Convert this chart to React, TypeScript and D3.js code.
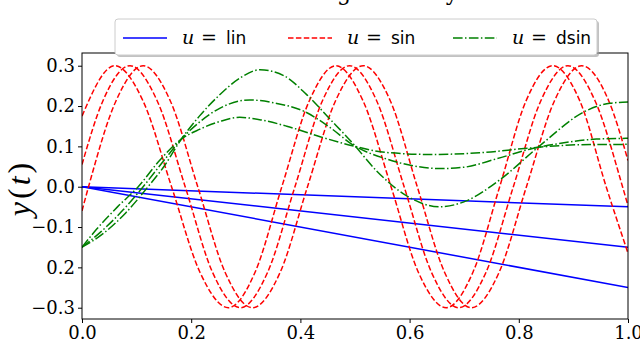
import React, { useEffect, useRef } from "react";
import * as d3 from "d3";

// axis ticks
const xTicks = [0, 0.2, 0.4, 0.6, 0.8, 1.0];
const xTickLabels = ["0.0", "0.2", "0.4", "0.6", "0.8", "1.0"];
const yTicks = [-0.3, -0.2, -0.1, 0, 0.1, 0.2, 0.3];
const yTickLabels = ["\u22120.3", "0.2", "\u22120.1", "0.0", "0.1", "0.2", "0.3"];

// u = lin (straight lines, start / end)
const linT = [0, 1];
const lin1 = [0, -0.05];
const lin2 = [0, -0.15];
const lin3 = [0, -0.25];

// u = sin, [t, y]
const sinA: [number, number][] = [
  [0, 0.175], [0.06, 0.3], [0.112, 0.212], [0.164, 0], [0.216, -0.212], [0.268, -0.3],
  [0.317, -0.212], [0.366, 0], [0.416, 0.212], [0.465, 0.3], [0.515, 0.212], [0.566, 0],
  [0.616, -0.212], [0.667, -0.3], [0.716, -0.212], [0.765, 0], [0.813, 0.212], [0.862, 0.3],
  [0.912, 0.212], [0.96, 0], [1.0, -0.165],
];
const sinB: [number, number][] = [
  [0, 0.055], [0.038, 0.212], [0.088, 0.3], [0.138, 0.212], [0.189, 0], [0.239, -0.212],
  [0.29, -0.3], [0.34, -0.212], [0.39, 0], [0.44, 0.212], [0.49, 0.3], [0.54, 0.212],
  [0.59, 0], [0.64, -0.212], [0.69, -0.3], [0.74, -0.212], [0.79, 0], [0.84, 0.212],
  [0.89, 0.3], [0.94, 0.212], [0.99, 0], [1.0, -0.047],
];
const sinC: [number, number][] = [
  [0, -0.06], [0.012, 0], [0.062, 0.212], [0.112, 0.3], [0.162, 0.212], [0.212, 0],
  [0.262, -0.212], [0.312, -0.3], [0.363, -0.212], [0.413, 0], [0.464, 0.212], [0.515, 0.3],
  [0.565, 0.212], [0.614, 0], [0.664, -0.212], [0.713, -0.3], [0.764, -0.212], [0.814, 0],
  [0.865, 0.212], [0.915, 0.3], [0.965, 0.212], [1.0, 0.065],
];

// u = dsin
const dsin1: [number, number][] = [
  [0, -0.15], [0.04, -0.115], [0.08, -0.065], [0.121, 0], [0.15, 0.05], [0.182, 0.118],
  [0.215, 0.175], [0.25, 0.225], [0.29, 0.27], [0.326, 0.29], [0.37, 0.275], [0.411, 0.229],
  [0.454, 0.168], [0.497, 0.106], [0.539, 0.04], [0.594, -0.022], [0.655, -0.05],
  [0.704, -0.035], [0.767, 0.019], [0.838, 0.101], [0.923, 0.188], [0.967, 0.207], [1.0, 0.21],
];
const dsin2: [number, number][] = [
  [0, -0.15], [0.036, -0.11], [0.075, -0.058], [0.112, 0], [0.15, 0.065], [0.182, 0.118],
  [0.215, 0.16], [0.253, 0.195], [0.307, 0.215], [0.355, 0.207], [0.405, 0.188],
  [0.454, 0.147], [0.497, 0.103], [0.557, 0.069], [0.606, 0.052], [0.655, 0.045],
  [0.698, 0.048], [0.759, 0.069], [0.82, 0.093], [0.869, 0.106], [0.942, 0.118], [1.0, 0.12],
];
const dsin3: [number, number][] = [
  [0, -0.15], [0.027, -0.105], [0.065, -0.05], [0.103, 0], [0.142, 0.065], [0.182, 0.118],
  [0.215, 0.142], [0.253, 0.162], [0.289, 0.172], [0.33, 0.165], [0.375, 0.15],
  [0.436, 0.124], [0.497, 0.101], [0.557, 0.085], [0.637, 0.08], [0.728, 0.084],
  [0.82, 0.096], [0.911, 0.104], [1.0, 0.105],
];

const legendItems = [
  { name: "lin", color: "#0000ff", dash: "none" },
  { name: "sin", color: "#ff0000", dash: "5.5,2.4" },
  { name: "dsin", color: "#008000", dash: "9.6,2.4,1.5,2.4" },
];

const serif = "'DejaVu Serif', serif";
const lightSerif = "'Liberation Serif', serif";
const sans = "'DejaVu Sans', sans-serif";

const Chart = () => {
  const svgRef = useRef<SVGSVGElement>(null);

  useEffect(() => {
    const svg = d3.select(svgRef.current);
    svg.selectAll("*").remove();

    const margin = { top: 53, right: 12, bottom: 25, left: 82 };
    const width = 640 - margin.left - margin.right;
    const height = 344 - margin.top - margin.bottom;

    const x = d3.scaleLinear().domain([0, 1]).range([0, width]);
    const y = d3.scaleLinear().domain([-0.328, 0.3315]).range([height, 0]);

    // title, mostly hidden behind the legend / the top edge
    svg
      .append("text")
      .attr("x", margin.left + width / 2)
      .attr("y", 0)
      .attr("text-anchor", "middle")
      .style("font-family", serif)
      .style("font-size", "22px")
      .text("Tracking accuracy");

    const g = svg.append("g").attr("transform", `translate(${margin.left},${margin.top})`);

    g.append("clipPath")
      .attr("id", "plot-clip")
      .append("rect")
      .attr("width", width)
      .attr("height", height);

    const plot = g.append("g").attr("clip-path", "url(#plot-clip)");

    const line = d3
      .line<[number, number]>()
      .x((d) => x(d[0]))
      .y((d) => y(d[1]))
      .curve(d3.curveMonotoneX);

    // u = lin
    [lin1, lin2, lin3].forEach((ys) => {
      plot
        .append("path")
        .datum(linT.map((t, i) => [t, ys[i]] as [number, number]))
        .attr("d", d3.line<[number, number]>().x((d) => x(d[0])).y((d) => y(d[1])))
        .attr("fill", "none")
        .attr("stroke", "#0000ff")
        .attr("stroke-width", 1.5);
    });

    // u = sin
    [sinA, sinB, sinC].forEach((pts) => {
      plot
        .append("path")
        .datum(pts)
        .attr("d", line)
        .attr("fill", "none")
        .attr("stroke", "#ff0000")
        .attr("stroke-width", 1.5)
        .attr("stroke-dasharray", "5.5,2.4");
    });

    // u = dsin
    [dsin1, dsin2, dsin3].forEach((pts) => {
      plot
        .append("path")
        .datum(pts)
        .attr("d", line)
        .attr("fill", "none")
        .attr("stroke", "#008000")
        .attr("stroke-width", 1.5)
        .attr("stroke-dasharray", "9.6,2.4,1.5,2.4");
    });

    // axes
    const xAxis = g
      .append("g")
      .attr("transform", `translate(0,${height})`)
      .call(
        d3
          .axisBottom(x)
          .tickValues(xTicks)
          .tickSize(4)
          .tickPadding(3)
          .tickFormat((d, i) => xTickLabels[i])
      );
    const yAxis = g.append("g").call(
      d3
        .axisLeft(y)
        .tickValues(yTicks)
        .tickSize(4)
        .tickPadding(3)
        .tickFormat((d, i) => yTickLabels[i])
    );
    [xAxis, yAxis].forEach((a) => {
      a.attr("font-family", null).attr("font-size", null);
      a.select(".domain").remove();
      a.selectAll("line").attr("stroke", "#000");
      a.selectAll("text")
        .style("font-family", serif)
        .style("font-size", "18px")
        .attr("fill", "#000");
    });

    g.append("rect")
      .attr("width", width)
      .attr("height", height)
      .attr("fill", "none")
      .attr("stroke", "#000")
      .attr("stroke-width", 1);

    // y label
    const yl = svg
      .append("text")
      .attr("transform", `translate(30,188) rotate(-90)`)
      .attr("text-anchor", "middle")
      .style("font-family", lightSerif)
      .style("font-size", "32px")
      .style("letter-spacing", "3px");
    yl.append("tspan").attr("font-style", "italic").text("y");
    yl.append("tspan").text("(");
    yl.append("tspan").attr("font-style", "italic").text("t");
    yl.append("tspan").text(")");

    // legend with shadow
    const lg = svg.append("g").attr("transform", "translate(115,19)");
    lg.append("rect")
      .attr("x", 2)
      .attr("y", 2)
      .attr("width", 482)
      .attr("height", 36)
      .attr("rx", 3)
      .attr("fill", "#999")
      .attr("opacity", 0.6);
    lg.append("rect")
      .attr("width", 482)
      .attr("height", 36)
      .attr("rx", 3)
      .attr("fill", "#fff")
      .attr("stroke", "#ccc");

    legendItems.forEach((it, i) => {
      const ox = 8 + i * 165;
      lg.append("line")
        .attr("x1", ox)
        .attr("x2", ox + 44)
        .attr("y1", 19)
        .attr("y2", 19)
        .attr("stroke", it.color)
        .attr("stroke-width", 1.5)
        .attr("stroke-dasharray", it.dash);
      const t = lg.append("text").attr("y", 25).style("font-size", "19px");
      t.append("tspan").attr("x", ox + 59).style("font-family", serif).attr("font-style", "italic").text("u");
      t.append("tspan").attr("x", ox + 78).style("font-family", serif).text("=");
      t.append("tspan").attr("x", ox + 103).style("font-family", sans).style("font-size", "17px").text(it.name);
    });
  }, []);

  return (
    <svg
      ref={svgRef}
      width={640}
      height={344}
      style={{ position: "absolute", left: 0, top: 0, background: "#fff" }}
    ></svg>
  );
};

export default function App() {
  return <Chart />;
}
